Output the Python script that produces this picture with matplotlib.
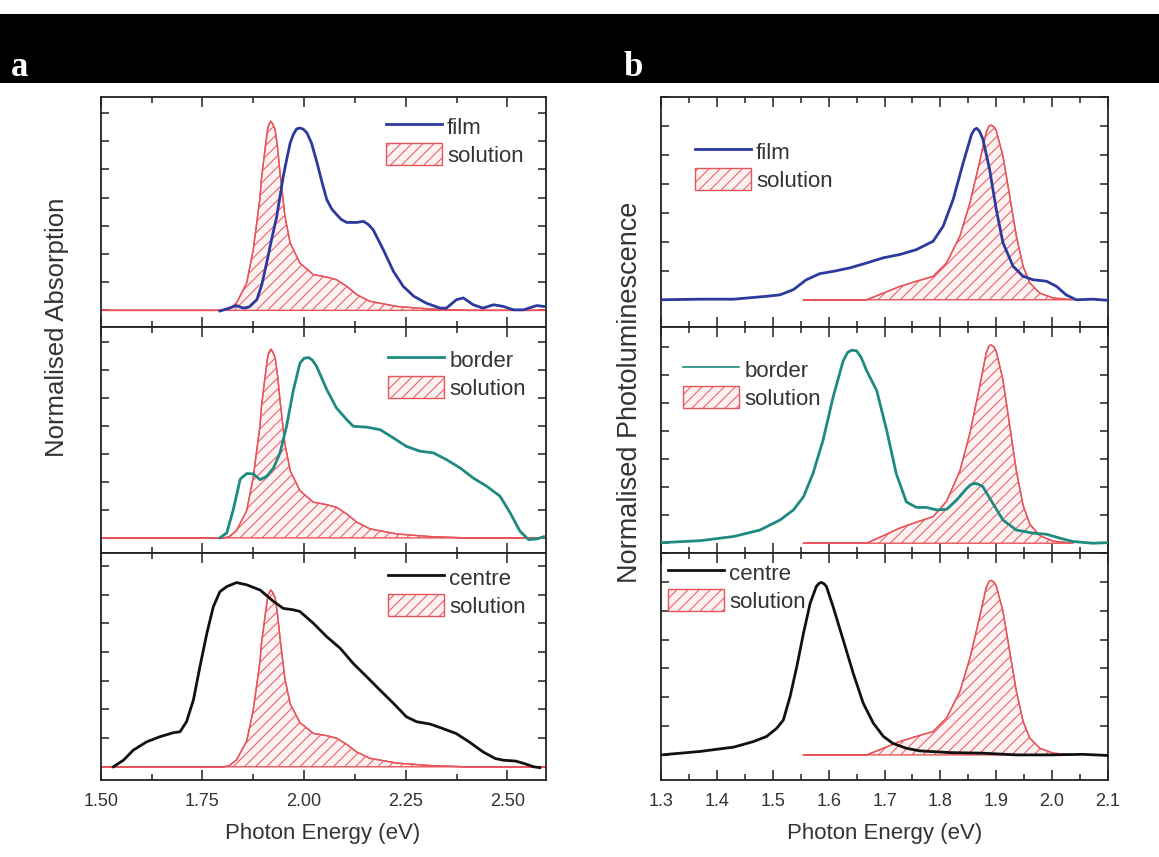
import matplotlib
matplotlib.use('Agg')
import matplotlib.pyplot as plt
from matplotlib.patches import Patch, Rectangle
from matplotlib.lines import Line2D
from matplotlib.ticker import MultipleLocator, AutoMinorLocator, FormatStrFormatter

plt.rcParams['font.family'] = ['Liberation Sans', 'DejaVu Sans']
plt.rcParams['hatch.linewidth'] = 0.7

# ---------------- data ----------------
# Absorption (panel a), photon energy in eV
abs_solution_x = [1.50, 1.80, 1.815, 1.834, 1.859, 1.875, 1.892, 1.895, 1.904, 1.91, 1.912,
                  1.918, 1.922, 1.929, 1.935, 1.941, 1.953, 1.966, 1.99, 2.023, 2.056, 2.08,
                  2.105, 2.13, 2.162, 2.228, 2.31, 2.40, 2.595]
abs_solution_y = [0, 0, 0.005, 0.039, 0.145, 0.32, 0.60, 0.69, 0.85, 0.95, 0.973,
                  1.0, 0.99, 0.955, 0.86, 0.727, 0.498, 0.356, 0.25, 0.189, 0.176, 0.162,
                  0.127, 0.083, 0.048, 0.021, 0.007, 0.0, 0.0]
abs_solution_peak = [6.71, 6.75, 6.16]

abs_film_x = [1.793, 1.81, 1.834, 1.85, 1.865, 1.884, 1.896, 1.908, 1.92, 1.933, 1.949, 1.958,
              1.966, 1.974, 1.982, 1.99, 1.998, 2.007, 2.018, 2.031, 2.045, 2.056, 2.068,
              2.08, 2.092, 2.105, 2.13, 2.146, 2.158, 2.17, 2.195, 2.22, 2.244, 2.27,
              2.30, 2.334, 2.35, 2.375, 2.392, 2.416, 2.44, 2.466, 2.49, 2.515, 2.54, 2.572, 2.59]
abs_film_y = [-0.02, 0.05, 0.17, 0.08, 0.12, 0.38, 0.90, 1.68, 2.50, 3.34, 4.76, 5.40,
              5.94, 6.25, 6.44, 6.47, 6.43, 6.30, 5.95, 5.29, 4.50, 3.93, 3.60,
              3.40, 3.22, 3.12, 3.12, 3.16, 3.05, 2.86, 2.15, 1.38, 0.85, 0.50,
              0.26, 0.08, 0.08, 0.38, 0.44, 0.20, 0.08, 0.20, 0.14, 0.02, 0.02, 0.17, 0.14]

abs_border_x = [1.793, 1.81, 1.826, 1.843, 1.859, 1.875, 1.892, 1.908, 1.925, 1.941, 1.957,
                1.974, 1.99, 2.0, 2.011, 2.021, 2.031, 2.056, 2.08, 2.105, 2.121, 2.154, 2.187,
                2.22, 2.252, 2.285, 2.318, 2.35, 2.384, 2.416, 2.449, 2.482, 2.507, 2.531,
                2.552, 2.572, 2.589]
abs_border_y = [0.0, 0.18, 1.01, 2.10, 2.30, 2.29, 2.08, 2.20, 2.50, 3.04, 3.99,
                5.30, 6.25, 6.42, 6.45, 6.35, 6.13, 5.30, 4.64, 4.23, 3.99, 3.96, 3.87,
                3.57, 3.27, 3.10, 3.04, 2.80, 2.50, 2.14, 1.85, 1.49, 0.89, 0.24,
                -0.06, -0.04, 0.04]

abs_centre_x = [1.531, 1.556, 1.58, 1.613, 1.646, 1.679, 1.695, 1.711, 1.728, 1.744, 1.761,
                1.777, 1.793, 1.81, 1.834, 1.859, 1.892, 1.925, 1.949, 1.974, 1.99, 2.023,
                2.056, 2.089, 2.121, 2.154, 2.187, 2.22, 2.252, 2.277, 2.31, 2.34, 2.374,
                2.406, 2.44, 2.47, 2.49, 2.52, 2.54, 2.565, 2.58]
abs_centre_y = [0.0, 0.23, 0.58, 0.87, 1.05, 1.19, 1.22, 1.57, 2.33, 3.49, 4.65,
                5.58, 6.10, 6.28, 6.42, 6.34, 6.16, 5.76, 5.52, 5.47, 5.41, 5.00,
                4.53, 4.13, 3.60, 3.14, 2.67, 2.21, 1.74, 1.57, 1.49, 1.34, 1.16,
                0.87, 0.52, 0.29, 0.23, 0.20, 0.12, 0.0, -0.03]

# Photoluminescence (panel b)
pl_solution_x = [1.555, 1.668, 1.698, 1.727, 1.757, 1.787, 1.811, 1.835, 1.853, 1.87, 1.882,
                 1.887, 1.891, 1.896, 1.90, 1.912, 1.924, 1.936, 1.948, 1.96, 1.978, 2.002, 2.037]
pl_solution_y = [0.0, 0.0, 0.038, 0.076, 0.106, 0.134, 0.211, 0.365, 0.556, 0.786, 0.959,
                 0.995, 1.0, 0.99, 0.968, 0.824, 0.594, 0.365, 0.192, 0.096, 0.038, 0.010, 0.0]
pl_solution_peak = [6.03, 7.09, 6.05]

pl_film_x = [1.30, 1.37, 1.43, 1.489, 1.513, 1.537, 1.56, 1.584, 1.608, 1.638, 1.668, 1.698,
             1.727, 1.757, 1.787, 1.805, 1.823, 1.841, 1.856, 1.861, 1.865, 1.870, 1.876,
             1.888, 1.90, 1.912, 1.93, 1.948, 1.966, 1.99, 2.008, 2.025, 2.043, 2.073, 2.10]
pl_film_y = [0.0, 0.02, 0.02, 0.12, 0.17, 0.35, 0.69, 0.90, 0.98, 1.10, 1.27, 1.45,
             1.56, 1.73, 2.02, 2.54, 3.47, 4.74, 5.72, 5.88, 5.92, 5.82, 5.55,
             4.51, 3.12, 1.97, 1.16, 0.81, 0.69, 0.64, 0.46, 0.17, 0.0, 0.02, -0.02]

pl_border_x = [1.30, 1.37, 1.43, 1.477, 1.513, 1.537, 1.555, 1.572, 1.59, 1.608, 1.626, 1.634,
               1.641, 1.65, 1.658, 1.668, 1.686, 1.704, 1.721, 1.739, 1.757, 1.775, 1.793,
               1.811, 1.829, 1.847, 1.855, 1.862, 1.869, 1.876, 1.894, 1.912, 1.936, 1.966,
               1.99, 2.014, 2.037, 2.073, 2.10]
pl_border_y = [0.02, 0.09, 0.24, 0.47, 0.83, 1.19, 1.66, 2.49, 3.68, 5.22, 6.52, 6.82,
               6.90, 6.88, 6.65, 6.17, 5.46, 4.03, 2.49, 1.48, 1.28, 1.28, 1.19,
               1.21, 1.54, 1.96, 2.10, 2.14, 2.10, 2.02, 1.42, 0.83, 0.47, 0.36,
               0.32, 0.18, 0.06, 0.0, 0.02]

pl_centre_x = [1.30, 1.37, 1.43, 1.465, 1.489, 1.507, 1.519, 1.531, 1.543, 1.555, 1.567, 1.578,
               1.583, 1.587, 1.592, 1.596, 1.608, 1.626, 1.644, 1.662, 1.68, 1.698, 1.715,
               1.739, 1.763, 1.817, 1.876, 1.936, 1.996, 2.055, 2.10]
pl_centre_y = [0.0, 0.12, 0.27, 0.46, 0.64, 0.92, 1.21, 2.02, 3.06, 4.22, 5.26, 5.84,
               5.95, 5.98, 5.93, 5.84, 5.14, 3.99, 2.83, 1.79, 1.10, 0.64, 0.40,
               0.23, 0.14, 0.08, 0.06, 0.0, 0.0, 0.02, -0.02]

abs_labels = ['film', 'border', 'centre']
pl_labels = ['film', 'border', 'centre']
solution_label = 'solution'
colors = ['#2b3a9c', '#1f8a80', '#111111']

# ---------------- layout ----------------
W, H = 1159, 857
fig = plt.figure(figsize=(W / 100, H / 100), dpi=100)


def fx(px):
    return px / W


def fy(py):
    return 1 - py / H


rows_px = [(97, 327), (327, 553), (553, 780)]
left_px = (100.7, 546)
right_px = (661, 1108)

abs_ylims = [(-0.59, 7.57), (-0.54, 7.54), (-0.46, 7.45)]
pl_ylims = [(-0.94, 7.0), (-0.35, 7.73), (-0.87, 7.0)]

abs_leg = [(386, 127), (388, 360), (388, 578)]
pl_leg = [(695, 152), (683, 370), (668, 573)]

text_col = '#333333'
red = '#e8545a'
pink = '#fdf1f1'


def make_ax(xpx, ypx):
    ax = fig.add_axes([fx(xpx[0]), fy(ypx[1]), fx(xpx[1]) - fx(xpx[0]),
                       (ypx[1] - ypx[0]) / H])
    for s in ax.spines.values():
        s.set_color('#222222')
        s.set_linewidth(1.3)
    return ax


def style(ax, bottom, major, xlim, ylim):
    ax.set_xlim(*xlim)
    ax.set_ylim(*ylim)
    ax.xaxis.set_major_locator(MultipleLocator(major))
    ax.xaxis.set_minor_locator(AutoMinorLocator(2))
    ax.yaxis.set_major_locator(MultipleLocator(1))
    ax.tick_params(which='both', direction='in', top=True, right=True,
                   color='#222222', width=1.1, labelleft=False,
                   labelbottom=bottom, labelsize=13, labelcolor=text_col, pad=9)
    ax.tick_params(which='major', length=7)
    ax.tick_params(which='minor', length=4.5)
    ax.tick_params(axis='y', which='major', length=6)


def solution_fill(ax, xs, ys, peak):
    yy = [v * peak for v in ys]
    ax.fill_between(xs, 0, yy, facecolor=pink, edgecolor=red,
                    hatch='///', linewidth=1.0, zorder=2)
    ax.plot(xs, yy, color=red, lw=1.0, zorder=2.5)


def add_legend(ax, label, color, pos, lw=2.0):
    handles = [Line2D([], [], color=color, lw=lw),
               Patch(facecolor=pink, edgecolor=red, hatch='///')]
    leg = ax.legend(handles, [label, solution_label],
                    loc='upper left',
                    bbox_to_anchor=(fx(pos[0]), fy(pos[1] - 12)),
                    bbox_transform=fig.transFigure,
                    frameon=False, fontsize=16, borderpad=0, borderaxespad=0,
                    handlelength=2.5, handleheight=1.15, handletextpad=0.25,
                    labelspacing=0.2)
    for t in leg.get_texts():
        t.set_color(text_col)
    return leg


abs_curves = [(abs_film_x, abs_film_y), (abs_border_x, abs_border_y),
              (abs_centre_x, abs_centre_y)]
pl_curves = [(pl_film_x, pl_film_y), (pl_border_x, pl_border_y),
             (pl_centre_x, pl_centre_y)]

for i in range(3):
    # panel a
    ax = make_ax(left_px, rows_px[i])
    style(ax, i == 2, 0.25, (1.5, 2.595), abs_ylims[i])
    solution_fill(ax, abs_solution_x, abs_solution_y, abs_solution_peak[i])
    ax.plot(*abs_curves[i], color=colors[i], lw=2.0, zorder=3)
    add_legend(ax, abs_labels[i], colors[i], abs_leg[i])
    if i == 2:
        ax.xaxis.set_major_formatter(FormatStrFormatter('%.2f'))

    # panel b
    ax = make_ax(right_px, rows_px[i])
    style(ax, i == 2, 0.1, (1.3, 2.1), pl_ylims[i])
    solution_fill(ax, pl_solution_x, pl_solution_y, pl_solution_peak[i])
    ax.plot(*pl_curves[i], color=colors[i], lw=2.0, zorder=3)
    add_legend(ax, pl_labels[i], colors[i], pl_leg[i], lw=1.2 if i == 1 else 2.0)
    if i == 2:
        ax.xaxis.set_major_formatter(FormatStrFormatter('%.1f'))

# axis labels
fig.text(fx(323), fy(833), 'Photon Energy (eV)', ha='center', va='center',
         fontsize=16, color=text_col)
fig.text(fx(884.5), fy(833), 'Photon Energy (eV)', ha='center', va='center',
         fontsize=16, color=text_col)
fig.text(fx(57), fy(327), 'Normalised Absorption', ha='center', va='center',
         rotation=90, fontsize=18.5, color=text_col)
fig.text(fx(630), fy(392), 'Normalised Photoluminescence', ha='center', va='center',
         rotation=90, fontsize=19.5, color=text_col)

# black banner with panel letters
fig.add_artist(Rectangle((0, fy(83)), 1, (83 - 14) / H, transform=fig.transFigure,
                         facecolor='black', edgecolor='none'))
fig.text(fx(11), fy(76), 'a', color='white', fontsize=25, fontweight='bold',
         family='Liberation Serif', va='baseline', ha='left')
fig.text(fx(623), fy(76), 'b', color='white', fontsize=25, fontweight='bold',
         family='Liberation Serif', va='baseline', ha='left')

fig.savefig('out.png', dpi=100, facecolor='white')
